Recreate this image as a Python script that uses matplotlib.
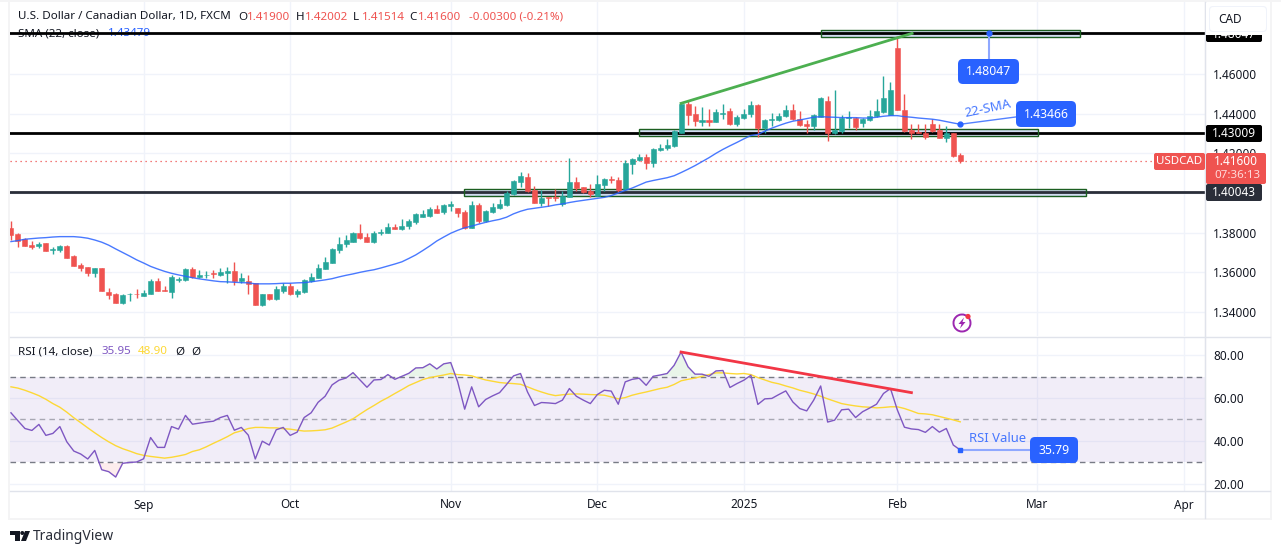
import matplotlib
matplotlib.use('Agg')
import matplotlib.pyplot as plt
from matplotlib.patches import Rectangle, FancyBboxPatch, Circle, Arc, Polygon
import numpy as np

plt.rcParams['font.family'] = ['Noto Sans', 'DejaVu Sans']

# velas diarias USDCAD
opens = [1.3825,1.3792,1.3767,1.3737,1.3732,1.3747,1.3712,1.3713,1.3732,1.3682,1.3637,1.3625,1.3597,1.3622,1.3502,1.3493,1.3447,1.3492,1.3493,1.3483,
         1.3493,1.3555,1.3510,1.3503,1.3563,1.3562,1.3617,1.3578,1.3587,1.3597,1.3588,1.3598,1.3607,1.3557,1.3557,1.3547,1.3433,1.3492,1.3467,1.3507,
         1.3532,1.3493,1.3503,1.3557,1.3573,1.3618,1.3648,1.3713,1.3742,1.3753,1.3797,1.3777,1.3752,1.3797,1.3798,1.3830,1.3817,1.3833,1.3853,1.3878,
         1.3883,1.3917,1.3902,1.3932,1.3922,1.3902,1.3822,1.3942,1.3857,1.3902,1.3922,1.3942,1.3997,1.4057,1.4082,1.4017,1.3952,1.3978,1.3978,1.3947,
         1.3982,1.4057,1.4032,1.4012,1.3987,1.4042,1.4072,1.4067,1.4022,1.4147,1.4167,1.4182,1.4152,1.4217,1.4227,1.4237,1.4305,1.4447,1.4397,1.4358,
         1.4367,1.4358,1.4400,1.4412,1.4348,1.4377,1.4398,1.4442,1.4328,1.4370,1.4367,1.4387,1.4417,1.4375,1.4347,1.4338,1.4383,1.4462,1.4300,1.4312,
         1.4380,1.4380,1.4353,1.4367,1.4387,1.4408,1.4392,1.4730,1.4420,1.4317,1.4308,1.4300,1.4350,1.4317,1.4278,1.4302,1.41900]
highs = [1.3858,1.3797,1.3773,1.3758,1.3752,1.3750,1.3730,1.3740,1.3740,1.3688,1.3647,1.3625,1.3622,1.3622,1.3520,1.3497,1.3490,1.3497,1.3517,1.3512,
         1.3567,1.3570,1.3533,1.3587,1.3578,1.3620,1.3627,1.3612,1.3607,1.3612,1.3620,1.3627,1.3652,1.3595,1.3587,1.3547,1.3493,1.3493,1.3530,1.3545,
         1.3545,1.3518,1.3565,1.3597,1.3640,1.3678,1.3723,1.3777,1.3787,1.3805,1.3842,1.3797,1.3807,1.3820,1.3850,1.3842,1.3867,1.3870,1.3900,1.3913,
         1.3928,1.3942,1.3947,1.3962,1.3925,1.3912,1.3962,1.3952,1.3912,1.3952,1.3972,1.4012,1.4067,1.4107,1.4102,1.4037,1.4017,1.3978,1.4022,1.4012,
         1.4177,1.4082,1.4032,1.4047,1.4092,1.4077,1.4087,1.4082,1.4167,1.4177,1.4197,1.4197,1.4227,1.4247,1.4272,1.4320,1.4458,1.4467,1.4437,1.4433,
         1.4423,1.4422,1.4450,1.4430,1.4392,1.4422,1.4463,1.4447,1.4373,1.4405,1.4403,1.4442,1.4447,1.4412,1.4367,1.4400,1.4483,1.4487,1.4517,1.4392,
         1.4413,1.4383,1.4378,1.4417,1.4472,1.4592,1.4558,1.4792,1.4500,1.4350,1.4350,1.4347,1.4375,1.4347,1.4340,1.4303,1.42002]
lows = [1.3763,1.3727,1.3732,1.3720,1.3722,1.3707,1.3692,1.3702,1.3672,1.3632,1.3607,1.3582,1.3577,1.3507,1.3467,1.3447,1.3442,1.3457,1.3473,1.3482,
        1.3492,1.3505,1.3507,1.3472,1.3550,1.3557,1.3572,1.3570,1.3572,1.3572,1.3582,1.3547,1.3537,1.3545,1.3492,1.3433,1.3428,1.3462,1.3462,1.3497,
        1.3487,1.3478,1.3497,1.3552,1.3572,1.3617,1.3645,1.3697,1.3727,1.3752,1.3770,1.3752,1.3747,1.3787,1.3797,1.3817,1.3813,1.3818,1.3842,1.3877,
        1.3880,1.3897,1.3892,1.3907,1.3877,1.3820,1.3822,1.3847,1.3855,1.3900,1.3920,1.3932,1.3992,1.4032,1.4007,1.3952,1.3932,1.3932,1.3962,1.3932,
        1.3982,1.4012,1.4002,1.3982,1.3987,1.4012,1.4052,1.4007,1.4017,1.4097,1.4162,1.4122,1.4132,1.4212,1.4217,1.4233,1.4302,1.4342,1.4340,1.4337,
        1.4340,1.4357,1.4375,1.4345,1.4338,1.4373,1.4385,1.4283,1.4303,1.4337,1.4365,1.4382,1.4370,1.4340,1.4303,1.4320,1.4382,1.4263,1.4295,1.4305,
        1.4330,1.4317,1.4333,1.4362,1.4383,1.4403,1.4392,1.4417,1.4307,1.4273,1.4300,1.4273,1.4307,1.4277,1.4258,1.4183,1.41514]
closes = [1.3787,1.3760,1.3733,1.3728,1.3745,1.3708,1.3720,1.3732,1.3672,1.3633,1.3622,1.3597,1.3622,1.3507,1.3487,1.3447,1.3487,1.3493,1.3490,1.3497,
          1.3555,1.3507,1.3507,1.3575,1.3567,1.3617,1.3575,1.3587,1.3588,1.3590,1.3600,1.3605,1.3557,1.3572,1.3543,1.3433,1.3492,1.3467,1.3517,1.3532,
          1.3492,1.3507,1.3562,1.3577,1.3622,1.3652,1.3718,1.3745,1.3762,1.3797,1.3772,1.3753,1.3797,1.3803,1.3830,1.3818,1.3835,1.3857,1.3892,1.3892,
          1.3917,1.3900,1.3937,1.3947,1.3897,1.3822,1.3942,1.3857,1.3907,1.3927,1.3947,1.4002,1.4062,1.4087,1.4012,1.3952,1.3977,1.3975,1.3973,1.3987,
          1.4057,1.4027,1.4007,1.3997,1.4047,1.4072,1.4067,1.4017,1.4152,1.4172,1.4182,1.4152,1.4222,1.4225,1.4242,1.4312,1.4450,1.4392,1.4362,1.4367,
          1.4358,1.4407,1.4403,1.4348,1.4382,1.4400,1.4442,1.4328,1.4367,1.4372,1.4390,1.4417,1.4372,1.4342,1.4340,1.4392,1.4478,1.4300,1.4318,1.4378,
          1.4382,1.4333,1.4373,1.4390,1.4412,1.4480,1.4520,1.4417,1.4313,1.4300,1.4303,1.4280,1.4312,1.4278,1.4300,1.4188,1.41600]

sma22 = [1.3755,1.3760,1.3767,1.3770,1.3773,1.3775,1.3778,1.3780,1.3780,1.3780,1.3777,1.3772,1.3763,1.3752,1.3737,1.3718,1.3700,1.3682,1.3663,1.3647,
         1.3630,1.3617,1.3605,1.3595,1.3587,1.3580,1.3573,1.3567,1.3562,1.3557,1.3553,1.3552,1.3550,1.3548,1.3547,1.3542,1.3542,1.3542,1.3543,1.3545,
         1.3545,1.3547,1.3548,1.3552,1.3557,1.3562,1.3568,1.3577,1.3585,1.3592,1.3600,1.3607,1.3613,1.3622,1.3632,1.3642,1.3653,1.3670,1.3688,1.3710,
         1.3733,1.3758,1.3778,1.3797,1.3812,1.3825,1.3833,1.3843,1.3852,1.3860,1.3867,1.3878,1.3895,1.3908,1.3918,1.3923,1.3928,1.3933,1.3940,1.3945,
         1.3952,1.3958,1.3963,1.3968,1.3973,1.3978,1.3987,1.4000,1.4013,1.4025,1.4040,1.4055,1.4063,1.4070,1.4077,1.4087,1.4103,1.4120,1.4138,1.4158,
         1.4178,1.4200,1.4220,1.4238,1.4255,1.4273,1.4290,1.4295,1.4312,1.4327,1.4340,1.4352,1.4362,1.4368,1.4375,1.4382,1.4385,1.4383,1.4382,1.4380,
         1.4380,1.4380,1.4378,1.4378,1.4382,1.4387,1.4390,1.4390,1.4385,1.4382,1.4378,1.4375,1.4372,1.4367,1.4360,1.4353,1.43466]

rsi = [53.1,49.4,45.8,44.9,47.7,42.6,43.5,46.7,39.6,35.3,33.9,31.6,35.6,26.6,25.7,23.2,29.6,30.0,30.2,31.7,
       41.6,37.0,37.0,46.7,45.5,51.9,47.8,48.3,48.8,49.2,50.9,51.9,45.0,46.3,42.7,31.6,39.9,38.1,45.2,46.3,
       42.6,44.1,50.9,53.1,58.0,60.8,66.1,68.3,69.3,71.8,68.4,65.0,68.4,68.6,70.9,68.7,70.1,71.5,74.0,74.1,
       75.9,73.5,75.9,76.5,67.5,54.8,65.2,55.9,59.3,61.0,62.5,66.3,70.3,71.4,62.8,56.5,57.9,57.7,57.4,59.0,
       64.4,60.8,59.0,57.4,61.6,63.6,63.2,57.1,67.5,68.7,69.2,65.9,70.1,70.7,71.4,75.2,81.4,74.5,71.1,71.1,
       70.1,72.6,72.8,64.9,66.7,68.3,70.6,57.0,59.6,59.8,61.6,63.3,58.2,55.1,54.0,59.0,65.6,48.8,49.7,54.5,
       54.8,50.9,53.6,55.3,57.1,62.1,64.4,54.3,46.4,45.6,45.3,44.0,46.7,44.1,45.8,38.1,35.79]
rsi_ma = [65.2,64.6,63.6,62.4,61.1,59.4,57.4,55.7,53.4,50.8,48.5,46.1,43.8,41.6,39.6,37.8,36.4,35.3,34.1,33.3,
          32.8,32.4,32.0,32.4,33.0,33.7,35.1,35.9,37.3,38.9,40.4,42.0,43.8,44.7,45.8,46.3,46.3,46.1,46.1,45.7,
          45.5,45.0,44.6,44.7,44.9,45.2,46.0,47.4,48.8,50.3,52.5,54.6,56.5,58.5,60.2,62.1,63.9,65.8,67.2,68.6,
          69.5,70.1,70.7,71.4,70.9,70.7,70.3,69.3,68.4,67.8,67.2,66.9,66.7,66.4,65.2,63.9,62.8,61.8,61.1,61.5,
          61.8,61.9,61.8,61.6,61.5,61.3,60.5,59.6,60.2,61.3,62.1,62.8,63.6,64.4,65.0,66.3,68.0,68.7,69.3,70.1,
          70.9,71.7,71.7,71.4,71.2,71.4,70.9,69.5,68.4,67.3,66.6,65.6,64.7,63.6,62.8,61.9,60.8,59.6,58.5,57.4,
          56.8,56.3,55.9,55.7,55.4,55.6,55.9,55.9,55.1,54.0,52.8,52.6,52.2,51.4,50.6,49.8,48.90]

month_pos = [19, 40, 63, 84, 105, 127, 147, 168]
month_labels = ['Sep', 'Oct', 'Nov', 'Dec', '2025', 'Feb', 'Mar', 'Apr']
price_ticks = [1.34, 1.36, 1.38, 1.42, 1.44, 1.46]
grid_extra = [1.40, 1.48]
rsi_ticks = [20, 40, 60, 80]

niveles = [(1.48047, '#000000'), (1.43009, '#000000'), (1.40043, '#2a2e39')]
# zonas: indice inicial, indice final, precio bajo, precio alto
zonas = [(116.05, 153.15, 1.4786, 1.4822), (89.97, 147.1, 1.4287, 1.4322), (64.9, 154.0, 1.3985, 1.4020)]

ROJO = '#ef5350'
VERDE = '#26a69a'
AZUL = '#2962ff'
TEXTO = '#131722'
GRID = '#f0f3fa'
BORDE = '#e0e3eb'
W, H = 1281, 554

fig = plt.figure(figsize=(W / 100, H / 100), dpi=100, facecolor='white')


def panel(top, bottom):
    return fig.add_axes([10 / W, 1 - bottom / H, 1195 / W, (bottom - top) / H])


ax = panel(2, 336)
ax_rsi = panel(337, 491)
# capa en pixeles para etiquetas y textos
ov = fig.add_axes([0, 0, 1, 1], zorder=10)
ov.set_xlim(0, W)
ov.set_ylim(H, 0)
ov.axis('off')
ov.patch.set_alpha(0)

x = np.arange(len(closes))
o, h, l, c = map(np.array, (opens, highs, lows, closes))
colores = [VERDE if cc >= oo else ROJO for oo, cc in zip(o, c)]

for a in (ax, ax_rsi):
    a.set_xlim(-0.14, 171.06)
    a.set_xticks(month_pos)
    a.grid(True, color=GRID, linewidth=1)
    a.set_axisbelow(True)
    a.yaxis.tick_right()
    a.tick_params(length=0, labelsize=8.5, labelcolor=TEXTO, pad=6)
    a.tick_params(axis='x', labelbottom=False)
    for lado in a.spines:
        a.spines[lado].set_visible(False)
    a.spines['right'].set_visible(True)
    a.spines['right'].set_color(BORDE)

# panel de precio
ax.set_ylim(1.3279, 1.4963)
ax.set_yticks(price_ticks)
ax.set_yticklabels(['%.5f' % t for t in price_ticks])
for nivel in grid_extra:
    ax.axhline(nivel, color=GRID, linewidth=1, zorder=0.5)

for ini, fin, bajo, alto in zonas:
    ax.add_patch(Rectangle((ini, bajo), fin - ini, alto - bajo, facecolor='#c9d6ee', alpha=0.85,
                           edgecolor='none', zorder=2))
for nivel, col in niveles:
    ax.axhline(nivel, color=col, linewidth=2, zorder=3)
for ini, fin, bajo, alto in zonas:
    ax.add_patch(Rectangle((ini, bajo), fin - ini, alto - bajo, facecolor='none',
                           edgecolor='#1b5e20', linewidth=1, zorder=3.5))

ax.axhline(closes[-1], color=ROJO, linewidth=0.9, linestyle=(0, (1, 3)), zorder=2)
ax.vlines(x, l, h, colors=colores, linewidth=1, zorder=4)
ax.bar(x, np.abs(c - o), bottom=np.minimum(o, c), width=0.72, color=colores,
       edgecolor=colores, linewidth=0.4, zorder=5)
ax.plot(x, sma22, color=AZUL, linewidth=1, alpha=0.85, zorder=6)
ax.plot([96, 129.1], [1.4452, 1.4805], color='#4caf50', linewidth=2, zorder=6)

# lineas de las etiquetas azules
ax.plot([136, 146.7], [sma22[-1], 1.4396], color=AZUL, linewidth=1, alpha=0.8, zorder=6)
ax.plot([136], [sma22[-1]], 'o', color=AZUL, markersize=3.5, zorder=7)
ax.plot([140.1, 140.1], [1.48047, 1.4680], color='#8fa8ff', linewidth=1.5, zorder=6)
ax.plot([140.1], [1.48047], 'o', color=AZUL, markersize=3.5, zorder=7)

# panel RSI
ax_rsi.set_ylim(16.7, 88.4)
ax_rsi.set_yticks(rsi_ticks)
ax_rsi.set_yticklabels(['%.2f' % t for t in rsi_ticks])
ax_rsi.axhspan(30, 70, color='#7e57c2', alpha=0.1, linewidth=0, zorder=1)
ax_rsi.axhline(70, color='#787b86', linewidth=1, linestyle=(0, (4, 3)), zorder=2)
ax_rsi.axhline(50, color='#787b86', linewidth=1, linestyle=(0, (4, 3)), alpha=0.6, zorder=2)
ax_rsi.axhline(30, color='#787b86', linewidth=1, linestyle=(0, (4, 3)), zorder=2)
r = np.array(rsi)
ax_rsi.fill_between(x, 70, r, where=r > 70, interpolate=True, color='#4caf50', alpha=0.12, linewidth=0)
ax_rsi.fill_between(x, 30, r, where=r < 30, interpolate=True, color='#ef5350', alpha=0.1, linewidth=0)
ax_rsi.plot(x, rsi_ma, color='#fdd835', linewidth=1, zorder=3)
ax_rsi.plot(x, rsi, color='#7e57c2', linewidth=1, zorder=4)
ax_rsi.plot([96, 129], [81.4, 62.5], color='#f23645', linewidth=2, zorder=5)
ax_rsi.plot([136, 146], [rsi[-1], rsi[-1]], color='#8fa8ff', linewidth=1.5, zorder=5)
ax_rsi.plot([136], [rsi[-1]], 's', color=AZUL, markersize=3, zorder=6)


def caja(x0, y0, x1, y1, color, radio=0.0, z=3):
    if radio:
        ov.add_patch(FancyBboxPatch((x0 + radio, y0 + radio), x1 - x0 - 2 * radio, y1 - y0 - 2 * radio,
                                    boxstyle='round,pad=%g,rounding_size=%g' % (radio, radio),
                                    facecolor=color, edgecolor='none', zorder=z))
    else:
        ov.add_patch(Rectangle((x0, y0), x1 - x0, y1 - y0, facecolor=color, edgecolor='none', zorder=z))


def texto(px, py, s, color=TEXTO, size=8.5, ha='left', z=6, **kw):
    return ov.text(px, py, s, color=color, fontsize=size, ha=ha, va='center', zorder=z, **kw)


# marco exterior
caja(0, 0, W, 2, '#f4f4f5', z=1)
caja(8, 0, 10, 520, '#f4f4f5', z=1)
caja(8, 518, 1272, 520, '#f4f4f5', z=1)
caja(1270, 0, 1272, 520, '#f4f4f5', z=1)
ov.plot([10, 1270], [491, 491], color=BORDE, linewidth=1, zorder=2)
ov.plot([10, 1270], [336.5, 336.5], color=BORDE, linewidth=1, zorder=2)
ov.plot([1205, 1205], [2, 518], color=BORDE, linewidth=1, zorder=2)

# eje temporal
for pos, lab in zip(month_pos, month_labels):
    texto(11 + 6.98 * pos, 505, lab, ha='center', fontweight='bold' if lab == '2025' else 'normal')

# leyendas
texto(18, 17, 'U.S. Dollar / Canadian Dollar, 1D, FXCM', size=8.35)
for px, letra, valor in [(238, 'O', '1.41900'), (296, 'H', '1.42002'), (353, 'L', '1.41514'), (409, 'C', '1.41600')]:
    texto(px, 17, letra, size=8.35)
    texto(px + 9, 17, valor, color=ROJO, size=8.35)
texto(469, 17, '-0.00300 (-0.21%)', color=ROJO, size=8.35)
ax.text(18, 33.5, 'SMA (22, close)', color=TEXTO, fontsize=8.35, va='center', zorder=1,
        transform=ov.transData, clip_on=False)
ax.text(108, 33.5, '1.43479', color=AZUL, fontsize=8.35, va='center', zorder=1,
        transform=ov.transData, clip_on=False)
texto(18, 352, 'RSI (14, close)', size=8.35)
texto(102, 352, '35.95', color='#7e57c2', size=8.35)
texto(138, 352, '48.90', color='#fdd835', size=8.35)
texto(175, 352, 'Ø', size=8.35)
texto(191, 352, 'Ø', size=8.35)

# etiquetas del eje derecho: el boton CAD tapa la parte alta de 1.48047
caja(1206, 29, 1262, 42, '#000000', 2)
texto(1234, 34, '1.48047', color='white', ha='center', z=4)
caja(1206, 2.5, 1269, 35, 'white', z=5)
caja(1209, 6, 1267, 32, '#f0f3fa', 4, z=5.2)
caja(1210, 7, 1266, 31, 'white', 3.5, z=5.5)
texto(1218, 19.5, 'CAD', size=8.5, z=7)

caja(1206, 125, 1262, 142, '#000000', 2)
texto(1234, 133.5, '1.43009', color='white', ha='center', fontweight='medium')
caja(1206, 184, 1262, 201, '#2a2e39', 2)
texto(1234, 192.5, '1.40043', color='white', ha='center')
caja(1154, 153, 1205, 170, ROJO, 2)
texto(1179.5, 161.5, 'USDCAD', color='white', ha='center', size=8.3)
caja(1206, 153, 1266, 184, ROJO, 2)
texto(1214, 161.5, '1.41600', color='white', fontweight='medium')
texto(1214, 175.5, '07:36:13', color='#ffd9d9', size=8.3)

# etiquetas azules
caja(958, 59, 1019, 84, AZUL, 5)
texto(988.5, 71.5, '1.48047', color='white', ha='center', size=8.8, fontweight='medium')
caja(1016, 101, 1076, 127, AZUL, 5)
texto(1046, 114, '1.43466', color='white', ha='center', size=8.8, fontweight='medium')
caja(1030, 437, 1078, 463, AZUL, 5)
texto(1054, 450, '35.79', color='white', ha='center', size=8.8, fontweight='medium')
texto(988, 109, '22-SMA', color=AZUL, ha='center', size=9.6, rotation=12, alpha=0.85)
texto(969, 438, 'RSI Value', color=AZUL, size=9.4, alpha=0.85)

# icono del rayo
ov.add_patch(Arc((962, 323), 17, 17, theta1=-70, theta2=290, color='#9c27b0', linewidth=1.4, zorder=6))
ov.add_patch(Polygon([(964, 317.5), (958.5, 324), (961.5, 324), (960, 328.5), (965.5, 322), (962.5, 322)],
                     facecolor='#9c27b0', edgecolor='none', zorder=6))
ov.add_patch(Circle((968, 316.5), 2.6, facecolor='#f23645', edgecolor='none', zorder=7))

# logo y marca
ov.add_patch(Polygon([(10, 531), (19.5, 531), (19.5, 541), (14.5, 541), (14.5, 535), (10, 535)],
                     facecolor='#131722', edgecolor='none', zorder=6))
ov.add_patch(Circle((22.3, 533), 2, facecolor='#131722', edgecolor='none', zorder=6))
ov.add_patch(Polygon([(25, 531), (30, 531), (26, 541), (21, 541)], facecolor='#131722', edgecolor='none', zorder=6))
texto(33, 536, 'TradingView', size=10, color='#2a2e39')

fig.savefig('out.png', dpi=100, facecolor='white')
